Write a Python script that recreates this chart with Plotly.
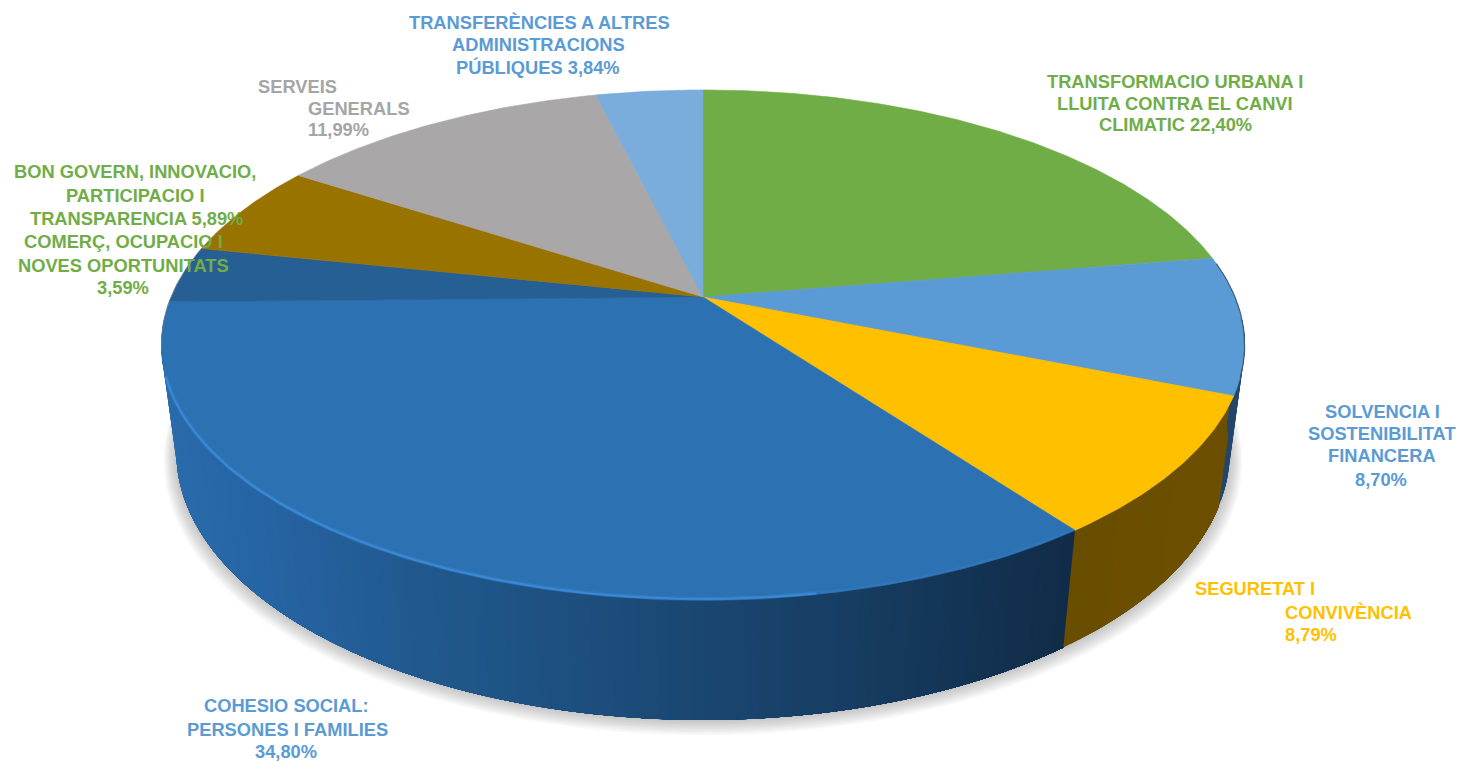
import numpy as np
import plotly.graph_objects as go

# ---------- data ----------
categories = [
    "Transformacio urbana i lluita contra el canvi climatic",
    "Solvencia i sostenibilitat financera",
    "Seguretat i convivencia",
    "Cohesio social: persones i families",
    "Comerç, ocupacio i noves oportunitats",
    "Bon govern, innovacio, participacio i transparencia",
    "Serveis generals",
    "Transferencies a altres administracions publiques",
]
values = [22.40, 8.70, 8.79, 34.80, 3.59, 5.89, 11.99, 3.84]
top_colors = ["#70ad47", "#5b9bd5", "#ffc000", "#2c72b3", "#265f93", "#997300", "#a9a7a7", "#7aaddc"]

# ---------- label text ----------
C_GREEN, C_BLUE, C_YEL, C_GRAY = "#70ad47", "#5b9bd5", "#ffc000", "#a5a5a5"
label_lines = [
    ("TRANSFERÈNCIES A ALTRES", 539, 22, "center", C_BLUE),
    ("ADMINISTRACIONS", 538, 44, "center", C_BLUE),
    ("PÚBLIQUES 3,84%", 538, 67, "center", C_BLUE),
    ("TRANSFORMACIO URBANA I", 1175, 81, "center", C_GREEN),
    ("LLUITA CONTRA EL CANVI", 1175, 103, "center", C_GREEN),
    ("CLIMATIC 22,40%", 1175, 124, "center", C_GREEN),
    ("SERVEIS", 256, 86, "left", C_GRAY),
    ("GENERALS", 306, 108, "left", C_GRAY),
    ("11,99%", 306, 129, "left", C_GRAY),
    ("BON GOVERN, INNOVACIO,", 135, 171, "center", C_GREEN),
    ("PARTICIPACIO I", 135, 195, "center", C_GREEN),
    ("TRANSPARENCIA 5,89%", 136, 218, "center", C_GREEN),
    ("COMERÇ, OCUPACIO I", 123, 241, "center", C_GREEN),
    ("NOVES OPORTUNITATS", 123, 265, "center", C_GREEN),
    ("3,59%", 123, 287, "center", C_GREEN),
    ("SOLVENCIA I", 1382, 411, "center", C_BLUE),
    ("SOSTENIBILITAT", 1382, 433, "center", C_BLUE),
    ("FINANCERA", 1382, 455, "center", C_BLUE),
    ("8,70%", 1381, 479, "center", C_BLUE),
    ("SEGURETAT I", 1193, 588, "left", C_YEL),
    ("CONVIVÈNCIA", 1283, 612, "left", C_YEL),
    ("8,79%", 1283, 634, "left", C_YEL),
    ("COHESIO SOCIAL:", 286, 705, "center", C_BLUE),
    ("PERSONES I FAMILIES", 287, 729, "center", C_BLUE),
    ("34,80%", 286, 751, "center", C_BLUE),
]

# ---------- perspective model of the disc ----------
CX, CY, A, B, K = 703.0, 297.0, 532.0, 246.0, 0.188
M, C = 0.0274, 109.0   # thickness in the projection


def project(theta_deg, depth=0.0):
    t = np.radians(np.asarray(theta_deg, dtype=float))
    X, Y = np.sin(t), np.cos(t)
    w = 1 + K * Y + M * depth
    return CX + A * X / w, CY - (B * Y - C * depth) / w


def hex2rgb(h):
    return np.array([int(h[i:i + 2], 16) for i in (1, 3, 5)], dtype=float)


def ramp(x, stops):
    xs = [s[0] for s in stops]
    cs = np.array([hex2rgb(s[1]) for s in stops])
    rgb = [np.interp(x, xs, cs[:, i]) for i in range(3)]
    return "rgb(%d,%d,%d)" % tuple(rgb)


cum = np.concatenate([[0], np.cumsum(values)]) / sum(values) * 360.0

fig = go.Figure()


def poly(xs, ys, fill, line_w=0.0, line_color=None):
    fig.add_trace(go.Scatter(
        x=np.asarray(xs), y=np.asarray(ys), mode="lines", fill="toself", fillcolor=fill,
        line=dict(width=line_w, color=line_color or fill), hoverinfo="skip", showlegend=False))


def stroke(xs, ys, width, color):
    fig.add_trace(go.Scatter(x=xs, y=ys, mode="lines", line=dict(width=width, color=color),
                             hoverinfo="skip", showlegend=False))


# soft shadow under the disc
th_all = np.linspace(0, 360, 361)
bx, by = project(th_all, 1.0)
for i in range(1, 11):
    f = 1 + 0.0024 * i
    poly(CX + (bx - CX) * f, 370 + (by - 370) * f + 0.7 * i, "rgba(60,60,60,0.033)")

# side wall: overlapping strips, painted in order so no seams remain
side_stops = {
    1: [(1060, "#1b4a70"), (1240, "#24476a")],
    2: [(1060, "#6a4e00"), (1230, "#6d5000")],
    3: [(170, "#2a6bab"), (260, "#2664a3"), (400, "#225a90"), (650, "#1b4a76"),
        (850, "#173d62"), (1070, "#112c48")],
}
for idx in (3, 2, 1):
    stops = side_stops[idx]
    lo, hi = max(cum[idx], 95.0), min(cum[idx + 1], 268.0)
    edges = np.arange(hi, lo, -1.0)
    for a in edges:
        th = np.linspace(lo, a, max(int(a - lo) + 2, 2))
        tx0, ty0 = project(th, 0.0)
        tx1, ty1 = project(th[::-1], 1.0)
        poly(np.r_[tx0, tx1, tx0[0]], np.r_[ty0, ty1, ty0[0]], ramp(project(a)[0], stops))

# top face of each slice
for i, col in enumerate(top_colors):
    th = np.linspace(cum[i], cum[i + 1], max(int(cum[i + 1] - cum[i]) * 2, 8))
    ax, ay = project(th)
    poly(np.r_[CX, ax, CX], np.r_[CY, ay, CY], col, 0.6)

# rim highlights
hx, hy = project(np.linspace(170, 252, 120))
stroke(hx, hy - 1, 4, "rgba(60,140,220,0.35)")
stroke(hx, hy - 1, 1.8, "rgba(60,138,214,0.95)")
hx, hy = project(np.linspace(cum[3], 170, 40))
stroke(hx, hy - 1, 3, "rgba(60,140,220,0.18)")
rx, ry = project(np.linspace(82, 108, 40))
stroke(rx, ry, 1.2, "rgba(50,75,95,0.8)")
rx, ry = project(np.linspace(258, 286, 40))
stroke(rx, ry, 1.0, "rgba(130,130,130,0.5)")

annotations = [
    dict(text=t, x=x, y=y, xref="x", yref="y", xanchor=anc, yanchor="middle", showarrow=False,
         font=dict(family="Liberation Sans", size=18.3, color=col, weight="bold"))
    for t, x, y, anc, col in label_lines
]

fig.update_layout(
    width=1458, height=762, margin=dict(l=0, r=0, t=0, b=0),
    paper_bgcolor="white", plot_bgcolor="white", showlegend=False, annotations=annotations,
    xaxis=dict(range=[0, 1458], visible=False, fixedrange=True),
    yaxis=dict(range=[762, 0], visible=False, fixedrange=True),
)
fig.write_html("out.html", config=dict(displayModeBar=False),
               post_script="document.body.style.margin='0';document.documentElement.style.overflow='hidden';")
